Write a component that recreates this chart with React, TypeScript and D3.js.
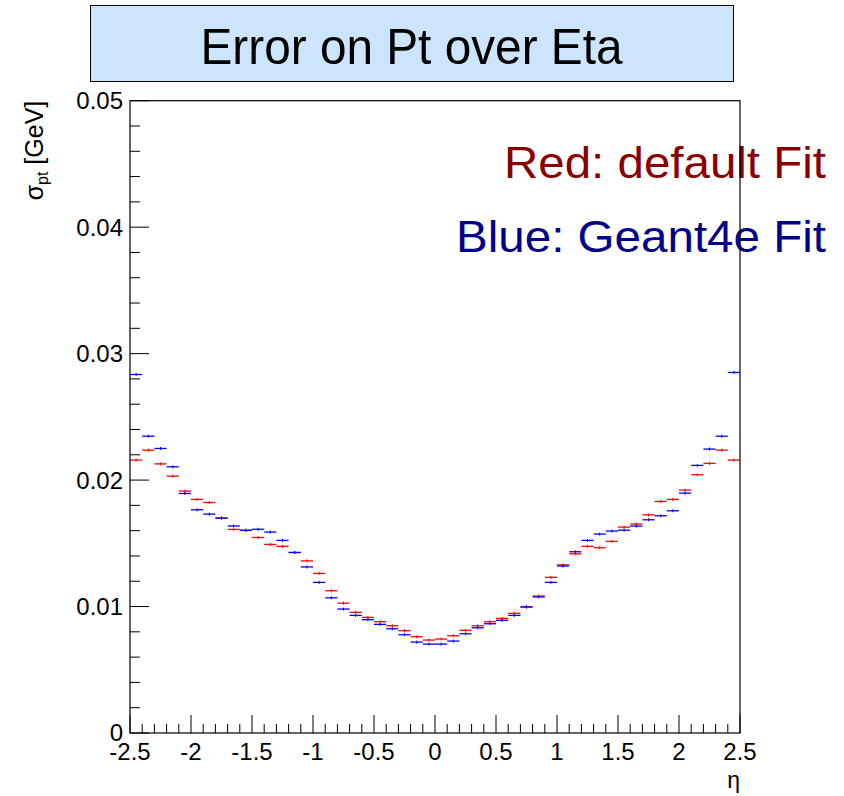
import React from "react";
import * as d3 from "d3";

const etaEdges: number[] = d3.range(51).map((i) => -2.5 + i * 0.1);

const redValues: number[] = [
  0.02158, 0.02237, 0.02128, 0.02031, 0.01913, 0.01847, 0.01823, 0.017, 0.0161, 0.01604,
  0.01546, 0.01491, 0.01476, 0.01428, 0.01361, 0.01262, 0.01125, 0.01027, 0.00954, 0.00914,
  0.0088, 0.00848, 0.00809, 0.00761, 0.00735, 0.00743, 0.00769, 0.00812, 0.00848, 0.0088,
  0.00906, 0.00946, 0.00998, 0.01083, 0.01231, 0.0133, 0.01417, 0.01476, 0.01465, 0.01515,
  0.01628, 0.01652, 0.01725, 0.01831, 0.01847, 0.01921, 0.02042, 0.02132, 0.02237, 0.02158,
];

const blueValues: number[] = [
  0.02835, 0.02347, 0.0225, 0.02105, 0.01894, 0.01765, 0.01731, 0.01699, 0.01637, 0.01602,
  0.01611, 0.01589, 0.01523, 0.01427, 0.01313, 0.01191, 0.01069, 0.0098, 0.0093, 0.00896,
  0.00859, 0.00824, 0.00777, 0.00719, 0.00703, 0.00703, 0.00727, 0.00785, 0.00832, 0.00864,
  0.00891, 0.0093, 0.00996, 0.01076, 0.01191, 0.0132, 0.01433, 0.01523, 0.01573, 0.01597,
  0.01604, 0.01636, 0.01686, 0.01718, 0.01757, 0.01897, 0.02116, 0.02245, 0.02347, 0.02851,
];

const errValue = 0.00012;

const xTickLabels: number[] = [-2.5, -2, -1.5, -1, -0.5, 0, 0.5, 1, 1.5, 2, 2.5];
const yTickLabels: number[] = [0, 0.01, 0.02, 0.03, 0.04, 0.05];

const FONT = "'Liberation Sans', Arial, Helvetica, sans-serif";

export default function App() {
  const left = 130, right = 740, top = 100.7, bottom = 733;
  const x = d3.scaleLinear().domain([-2.5, 2.5]).range([left, right]);
  const y = d3.scaleLinear().domain([0, 0.05]).range([bottom, top]);

  const xMinor = d3.range(51).map((i) => -2.5 + i * 0.1);
  const yMinor = d3.range(26).map((i) => i * 0.002);

  const fmtX = (v: number) => (v === 0 ? "0" : String(v));
  const fmtY = (v: number) => (v === 0 ? "0" : v.toFixed(2));

  const drawSeries = (vals: number[], color: string, key: string) =>
    vals.map((v, i) => {
      const x0 = x(etaEdges[i]);
      const x1 = x(etaEdges[i + 1]);
      const xc = (x0 + x1) / 2;
      return (
        <g key={key + i}>
          <line x1={x0} x2={x1} y1={y(v)} y2={y(v)} stroke={color} strokeWidth={1.3} />
          <line x1={xc} x2={xc} y1={y(v + errValue)} y2={y(v - errValue)} stroke={color} strokeWidth={1} />
        </g>
      );
    });

  return (
    <svg
      width={844}
      height={796}
      style={{ position: "absolute", left: 0, top: 0, background: "#fff" }}
      fontFamily={FONT}
    >
      <rect x={0} y={0} width={844} height={796} fill="#fff" />
      {/* Title box */}
      <rect x={90.5} y={5.5} width={643} height={76} fill="#cce5fc" stroke="#000" strokeWidth={1} />
      <text x={411.5} y={64} fontSize={50} textAnchor="middle" fill="#000" textLength={422} lengthAdjust="spacingAndGlyphs">
        Error on Pt over Eta
      </text>

      {/* series */}
      {drawSeries(redValues, "#ff0000", "r")}
      {drawSeries(blueValues, "#0000ff", "b")}

      {/* legend texts */}
      <text x={826} y={178} fontSize={44} textAnchor="end" fill="#8a0000" textLength={322} lengthAdjust="spacingAndGlyphs">
        Red: default Fit
      </text>
      <text x={826} y={252} fontSize={44} textAnchor="end" fill="#00008c" textLength={370} lengthAdjust="spacingAndGlyphs">
        Blue: Geant4e Fit
      </text>

      {/* frame */}
      <rect x={left} y={top} width={right - left} height={bottom - top} fill="none" stroke="#000" strokeWidth={1.2} />

      {/* y ticks */}
      {yMinor.map((v, i) => (
        <line key={"ym" + i} x1={left} x2={left + (i % 5 === 0 ? 19 : 10)} y1={y(v)} y2={y(v)} stroke="#000" strokeWidth={1} />
      ))}
      {yTickLabels.map((v) => (
        <text key={"yl" + v} x={123} y={y(v) + (v === 0 ? 7.5 : 8.5)} fontSize={24} textAnchor="end" fill="#000">
          {fmtY(v)}
        </text>
      ))}

      {/* x ticks */}
      {xMinor.map((v, i) => (
        <line key={"xm" + i} x1={x(v)} x2={x(v)} y1={bottom} y2={bottom - (i % 5 === 0 ? 18 : 9)} stroke="#000" strokeWidth={1} />
      ))}
      {xTickLabels.map((v) => (
        <text key={"xl" + v} x={x(v)} y={759.5} fontSize={24} textAnchor="middle" fill="#000">
          {fmtX(v)}
        </text>
      ))}

      {/* axis titles */}
      <text x={740} y={788} fontSize={23} textAnchor="end" fill="#000">η</text>
      <text transform="translate(43,100.7) rotate(-90)" fontSize={25} textAnchor="end" fill="#000">
        <tspan>σ</tspan>
        <tspan fontSize={16} dy={5}>pt</tspan>
        <tspan dy={-5}> [GeV]</tspan>
      </text>
    </svg>
  );
}
